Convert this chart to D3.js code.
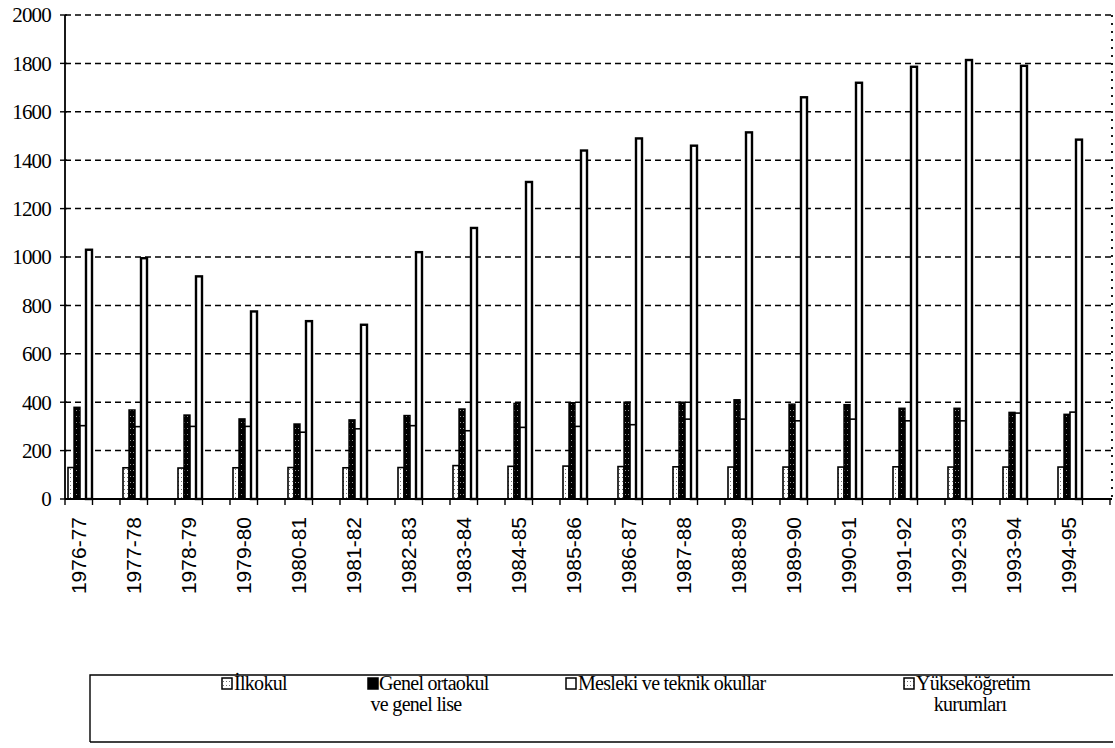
<!DOCTYPE html>
<html><head><meta charset="utf-8">
<script src="https://cdn.jsdelivr.net/npm/d3@7"></script>
<style>
html,body{margin:0;padding:0;background:#fff;}
svg{display:block;}
</style></head>
<body>
<svg id="chart" width="1115" height="748"></svg>
<script>
const years = ["1976-77","1977-78","1978-79","1979-80","1980-81","1981-82","1982-83","1983-84","1984-85","1985-86","1986-87","1987-88","1988-89","1989-90","1990-91","1991-92","1992-93","1993-94","1994-95"];
const ilkokul = [130,129,128,129,130,129,130,138,135,136,134,133,132,132,132,133,132,132,132];
const genel = [379,368,347,331,310,327,345,372,395,398,400,400,410,392,390,375,375,358,350];
const mesleki = [303,299,300,300,276,290,303,282,296,300,307,330,330,323,330,323,323,355,359];
const yuksek = [1030,995,920,775,735,720,1020,1120,1310,1440,1490,1460,1515,1660,1720,1786,1814,1790,1485];
const seriesNames = ["İlkokul","Genel ortaokul ve genel lise","Mesleki ve teknik okullar","Yükseköğretim kurumları"];
const seriesValues = [ilkokul, genel, mesleki, yuksek];
const yTicks = [0,200,400,600,800,1000,1200,1400,1600,1800,2000];

(function(){
const SERIF = "'Liberation Serif', 'DejaVu Serif', 'Times New Roman', Times, serif";
const SANS = "'Liberation Sans', Arial, 'DejaVu Sans', sans-serif";
const svg = d3.select("#chart");
const mLeft = 65, mRight = 1110, mTop = 15, mBottom = 499, borderRight = 1112;

const defs = svg.append("defs");
const p1 = defs.append("pattern").attr("id","patDots").attr("patternUnits","userSpaceOnUse").attr("width",3).attr("height",4);
p1.append("rect").attr("width",3).attr("height",4).attr("fill","#fff");
p1.append("rect").attr("x",1).attr("y",1).attr("width",1).attr("height",1).attr("fill","#777");
const p2 = defs.append("pattern").attr("id","patDark").attr("patternUnits","userSpaceOnUse").attr("width",3).attr("height",6);
p2.append("rect").attr("width",3).attr("height",6).attr("fill","#000");
p2.append("rect").attr("x",1).attr("y",2).attr("width",1).attr("height",1).attr("fill","#999");

const fills = ["url(#patDots)","url(#patDark)","#fff","#fff"];
const strokeW = [1.6,1.4,1.6,2.4];

const x = d3.scaleBand().domain(years).range([mLeft,mRight]).padding(0);
const sub = d3.scaleBand().domain(seriesNames).range([3,27]).padding(0);
const y = d3.scaleLinear().domain([0,2000]).range([mBottom,mTop]);

// gridlines
svg.append("g").selectAll("line").data(yTicks.filter(d=>d>0)).join("line")
  .attr("x1",mLeft).attr("x2",borderRight)
  .attr("y1",d=>y(d)).attr("y2",d=>y(d))
  .attr("stroke","#000").attr("stroke-width",1.5).attr("stroke-dasharray","6,4");
// right dotted border
svg.append("line").attr("x1",borderRight).attr("x2",borderRight).attr("y1",mTop).attr("y2",mBottom)
  .attr("stroke","#000").attr("stroke-width",1.8).attr("stroke-dasharray","2,6");

// bars
seriesNames.forEach((s,si)=>{
  svg.append("g").selectAll("rect").data(years).join("rect")
    .attr("x",d=>x(d)+sub(s))
    .attr("width",sub.bandwidth())
    .attr("y",(d,i)=>y(seriesValues[si][i]))
    .attr("height",(d,i)=>y(0)-y(seriesValues[si][i]))
    .attr("fill",fills[si]).attr("stroke","#000").attr("stroke-width",strokeW[si]);
});

// axes
svg.append("line").attr("x1",mLeft).attr("x2",mLeft).attr("y1",mTop).attr("y2",mBottom).attr("stroke","#000").attr("stroke-width",1.8);
svg.append("line").attr("x1",mLeft).attr("x2",borderRight).attr("y1",mBottom).attr("y2",mBottom).attr("stroke","#000").attr("stroke-width",1.8);
svg.append("g").selectAll("line").data(yTicks).join("line")
  .attr("x1",mLeft-5).attr("x2",mLeft+2).attr("y1",d=>y(d)).attr("y2",d=>y(d)).attr("stroke","#000").attr("stroke-width",1.4);
svg.append("g").selectAll("text").data(yTicks).join("text")
  .style("font-family",SERIF).style("font-size","21px").style("letter-spacing","-0.8px")
  .attr("x",51).attr("y",d=>y(d)).attr("dy","0.35em").attr("text-anchor","end")
  .text(d=>d);

const tickXs = [];
years.forEach(d=>{ tickXs.push(x(d)); tickXs.push(x(d)+x.bandwidth()/2); });
tickXs.push(mRight);
svg.append("g").selectAll("line").data(tickXs).join("line")
  .attr("x1",d=>d).attr("x2",d=>d).attr("y1",mBottom).attr("y2",mBottom+6).attr("stroke","#000").attr("stroke-width",1.4);

svg.append("g").selectAll("text").data(years).join("text")
  .style("font-family",SANS).style("font-size","21px")
  .attr("transform",d=>`translate(${x(d)+x.bandwidth()/4},517) rotate(-90)`)
  .attr("text-anchor","end").attr("dy","0.35em")
  .text(d=>d);

// legend
const lg = svg.append("g");
lg.append("path").attr("d","M90,742 L90,675 L1113,675").attr("fill","none").attr("stroke","#000").attr("stroke-width",1.4);
lg.append("line").attr("x1",90).attr("x2",1113).attr("y1",742).attr("y2",742).attr("stroke","#000").attr("stroke-width",1.4);
const legendItems = [
  {icon:222, lines:["İlkokul"], tx:234},
  {icon:368, lines:["Genel ortaokul","ve genel lise"], tx:379, c2:416},
  {icon:566, lines:["Mesleki ve teknik okullar"], tx:578},
  {icon:904, lines:["Yükseköğretim","kurumları"], tx:916, c2:970}
];
const iconFills = ["url(#patDots)","#000","#fff","url(#patDots)"];
legendItems.forEach((it,i)=>{
  lg.append("rect").attr("x",it.icon).attr("y",678).attr("width",10).attr("height",11)
    .attr("fill",iconFills[i]).attr("stroke","#000").attr("stroke-width",1.5);
  lg.append("text").style("font-family",SERIF).style("font-size","20px").style("letter-spacing","-0.7px")
    .attr("x",it.tx).attr("y",690).text(it.lines[0]);
  if (it.lines[1]) {
    lg.append("text").style("font-family",SERIF).style("font-size","20px").style("letter-spacing","-0.7px")
      .attr("x",it.c2).attr("y",711).attr("text-anchor","middle").text(it.lines[1]);
  }
});
})();
</script>
</body></html>
